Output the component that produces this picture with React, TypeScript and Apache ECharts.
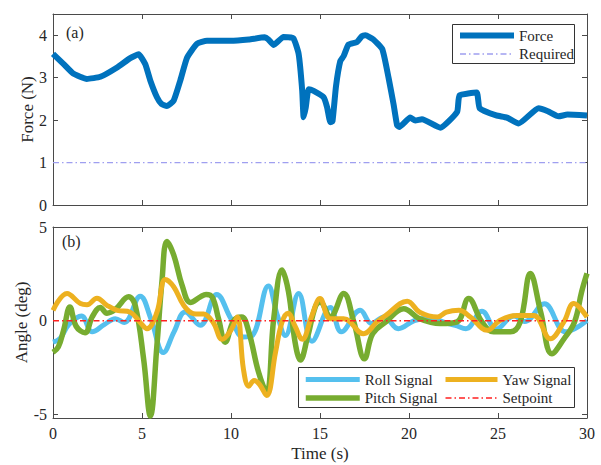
import React, { useEffect, useRef } from "react";
import * as echarts from "echarts";

// ---- Data ----
const forceT = [0, 0.6, 1.16, 1.9, 2.66, 3.6, 4.34, 4.81, 5.18, 5.47, 5.84, 6.1, 6.4, 6.78, 7.15, 7.53, 8.09, 8.65, 9.96, 11.0, 11.9, 12.1, 12.4, 12.95, 13.5, 13.8, 14.0, 14.08, 14.2, 14.36, 14.64, 15.2, 15.4, 15.58, 15.7, 15.9, 16.14, 16.33, 16.6, 17.08, 17.36, 17.55, 18.0, 18.5, 18.85, 19.13, 19.33, 19.45, 20.07, 20.35, 20.73, 21.76, 22.7, 22.84, 23.8, 23.97, 24.9, 25.5, 26.16, 27.28, 27.8, 28.4, 28.9, 30];
const forceN = [3.56, 3.32, 3.09, 2.97, 3.02, 3.24, 3.46, 3.55, 3.32, 2.93, 2.54, 2.38, 2.33, 2.46, 2.93, 3.47, 3.8, 3.87, 3.87, 3.9, 3.95, 3.9, 3.77, 3.96, 3.93, 3.56, 2.7, 2.07, 2.3, 2.73, 2.69, 2.54, 2.3, 1.95, 1.97, 2.8, 3.39, 3.51, 3.78, 3.84, 3.98, 4.0, 3.9, 3.67, 3.0, 2.38, 1.88, 1.84, 2.06, 1.99, 2.02, 1.82, 2.19, 2.58, 2.65, 2.28, 2.11, 2.06, 1.92, 2.28, 2.21, 2.09, 2.13, 2.11];
const requiredForce = 1;

const rollT = [0, 0.4, 0.9, 1.6, 2.2, 2.9, 3.5, 4.0, 4.9, 5.5, 6.2, 6.8, 7.43, 8.27, 9.2, 10.0, 10.7, 11.2, 12.1, 12.6, 13.05, 13.8, 14.55, 15.58, 16.2, 17.26, 17.9, 18.6, 19.4, 20.3, 21.2, 22.0, 22.6, 23.2, 24.1, 24.9, 25.9, 26.5, 27.6, 28.8, 30];
const rollA = [-1.15, -0.95, -0.2, 0.25, -0.6, -0.2, 0.1, -0.1, 1.3, 0.1, -1.7, -0.6, 0.46, -0.25, 1.4, 0.1, -0.88, -0.8, 1.85, 0.3, -0.8, 1.45, -1.1, 0.7, -0.6, 0.55, -0.15, 0.2, -0.43, 0.0, 0.15, -0.1, -0.25, -0.43, 0.5, -0.45, 0.25, -0.05, 0.9, -0.6, 0.0];

const pitchT = [0, 0.3, 0.6, 0.95, 1.3, 1.8, 2.2, 2.66, 3.03, 3.5, 4.25, 4.62, 5.09, 5.47, 5.84, 6.12, 6.4, 6.78, 7.25, 7.72, 8.28, 8.6, 8.95, 9.3, 9.68, 10.15, 10.6, 11.0, 11.55, 12.0, 12.4, 12.86, 13.23, 13.6, 13.9, 14.3, 14.74, 15.0, 15.58, 16.33, 16.9, 17.5, 17.96, 18.7, 19.7, 20.6, 21.75, 22.7, 23.35, 24.1, 24.75, 25.7, 26.25, 26.82, 27.4, 28.03, 28.7, 29.3, 29.7, 30];
const pitchA = [-1.69, -1.4, -0.5, 0.73, -0.3, -0.65, 0.2, 0.7, 0.4, 0.6, 1.27, 0.82, -2.04, -5.09, -1.3, 2.08, 4.23, 3.51, 1.9, 0.97, 1.27, 1.4, 1.25, 0.1, -1.15, 0.0, 0.2, -0.6, -2.76, -3.84, 0.1, 2.7, 1.54, -1.15, -2.1, -0.88, 0.75, 1.0, 0.2, 1.45, -0.07, -2.04, -0.7, -0.07, 0.64, 0.1, -0.16, -0.07, 1.18, -0.07, -0.6, -0.6, -0.07, 2.52, 0.45, -1.77, -0.98, -0.07, 1.54, 2.52];

const yawT = [0, 0.79, 1.54, 1.91, 2.47, 3.03, 3.6, 4.34, 4.9, 5.28, 5.84, 6.31, 6.78, 7.34, 7.9, 8.46, 9.0, 9.5, 10.0, 10.35, 10.7, 11.0, 11.3, 11.6, 12.0, 12.5, 12.86, 13.2, 13.6, 14.0, 14.55, 15.0, 15.58, 16.33, 17.45, 18.2, 18.7, 19.9, 20.6, 21.6, 22.1, 22.8, 23.45, 24.4, 25.1, 26.07, 27.0, 27.94, 28.7, 29.25, 30];
const yawA = [0.55, 1.45, 0.91, 0.85, 1.2, 0.82, 0.55, 0.45, -0.1, -0.43, 0.45, 2.2, 1.81, 0.82, 0.37, 0.35, -0.1, -1.0, -0.5, 0.2, -2.6, -3.5, -3.2, -3.4, -4.0, -1.7, -0.1, 0.4, -0.3, -1.0, 0.28, 1.18, 0.1, 0.1, -0.7, -0.07, 0.28, 1.04, 0.45, 0.19, 0.45, 0.55, 0.19, -0.52, 0.01, 0.28, 0.28, -0.97, -0.07, 0.91, 0.19];
const setpoint = 0;

const timeRange = [0, 30];
const forceTicks = [0, 1, 2, 3, 4];
const angleTicks = [-5, 0, 5];

const zip = (t: number[], v: number[]) => t.map((x, i) => [x, v[i]]);

const FONT = "Liberation Serif";
const AX = "#4a4a4a";
const TXT = "#262626";

export default function App() {
  const ref = useRef<HTMLDivElement>(null);
  useEffect(() => {
    if (!ref.current) return;
    const chart = echarts.init(ref.current, null, { renderer: "svg" });
    const baseX = (gridIndex: number, position: string, labels: boolean) => ({
      type: "value",
      gridIndex,
      position,
      min: timeRange[0],
      max: timeRange[1],
      interval: 5,
      axisLine: { show: true, onZero: false, lineStyle: { color: AX, width: 1 } },
      axisTick: { show: true, inside: true, length: 5, lineStyle: { color: AX } },
      axisLabel: { show: labels, color: TXT, fontFamily: FONT, fontSize: 16, margin: 7 },
      splitLine: { show: false },
    });
    const legendCommon = {
      orient: "vertical",
      itemHeight: 14,
      itemGap: 3.5,
      padding: 0,
      itemStyle: { opacity: 0 },
      lineStyle: { width: "inherit", type: "inherit" },
      textStyle: { color: TXT, fontFamily: FONT, fontSize: 15, lineHeight: 14 },
    };
    const option: any = {
      animation: false,
      backgroundColor: "#fff",
      grid: [
        { left: 53, right: 14, top: 14, height: 191, containLabel: false },
        { left: 53, right: 14, top: 227, height: 191, containLabel: false },
      ],
      xAxis: [
        baseX(0, "bottom", false),
        baseX(0, "top", false),
        {
          ...baseX(1, "bottom", true),
          name: "Time (s)",
          nameLocation: "middle",
          nameGap: 27,
          nameMoveOverlap: false,
          nameTextStyle: { color: TXT, fontFamily: FONT, fontSize: 17 },
        },
        baseX(1, "top", false),
      ],
      yAxis: [
        {
          type: "value",
          gridIndex: 0,
          position: "left",
          min: 0,
          max: 4.5,
          interval: 1,
          name: "Force (N)",
          nameLocation: "middle",
          nameGap: 17,
          nameMoveOverlap: false,
          nameTextStyle: { color: TXT, fontFamily: FONT, fontSize: 17 },
          axisLine: { show: true, onZero: false, lineStyle: { color: AX } },
          axisTick: { show: true, inside: true, length: 5, lineStyle: { color: AX } },
          axisLabel: { color: TXT, fontFamily: FONT, fontSize: 16, margin: 6, customValues: forceTicks },
          splitLine: { show: false },
        },
        {
          type: "value",
          gridIndex: 0,
          position: "right",
          min: 0,
          max: 4.5,
          interval: 1,
          axisLine: { show: true, onZero: false, lineStyle: { color: AX } },
          axisTick: { show: true, inside: true, length: 5, lineStyle: { color: AX } },
          axisLabel: { show: false },
          splitLine: { show: false },
        },
        {
          type: "value",
          gridIndex: 1,
          position: "left",
          min: -5.2,
          max: 5,
          name: "Angle (deg)",
          nameLocation: "middle",
          nameGap: 23,
          nameMoveOverlap: false,
          nameTextStyle: { color: TXT, fontFamily: FONT, fontSize: 17 },
          axisLine: { show: true, onZero: false, lineStyle: { color: AX } },
          axisTick: { show: true, inside: true, length: 5, lineStyle: { color: AX }, customValues: angleTicks },
          axisLabel: { color: TXT, fontFamily: FONT, fontSize: 16, margin: 6, customValues: angleTicks },
          splitLine: { show: false },
        },
        {
          type: "value",
          gridIndex: 1,
          position: "right",
          min: -5.2,
          max: 5,
          axisLine: { show: true, onZero: false, lineStyle: { color: AX } },
          axisTick: { show: true, inside: true, length: 5, lineStyle: { color: AX }, customValues: angleTicks },
          axisLabel: { show: false },
          splitLine: { show: false },
        },
      ],
      legend: [
        { ...legendCommon, data: ["Force", "Required"], left: 457, top: 28, itemWidth: 54 },
        { ...legendCommon, data: ["Roll Signal", "Pitch Signal"], left: 303, top: 372, itemWidth: 54 },
        { ...legendCommon, data: ["Yaw Signal", "Setpoint"], left: 443, top: 372, itemWidth: 52 },
      ],
      graphic: [
        { type: "rect", z: 3, shape: { x: 452.5, y: 24.5, width: 122, height: 39 }, style: { fill: "#fff", stroke: "#333", lineWidth: 1 } },
        { type: "rect", z: 3, shape: { x: 298.5, y: 367.5, width: 276, height: 40 }, style: { fill: "#fff", stroke: "#333", lineWidth: 1 } },
        { type: "text", z: 5, x: 66, y: 24, style: { text: "(a)", fill: TXT, font: `16px "${FONT}"` } },
        { type: "text", z: 5, x: 62, y: 233, style: { text: "(b)", fill: TXT, font: `16px "${FONT}"` } },
      ],
      series: [
        {
          name: "Force",
          type: "line",
          xAxisIndex: 0,
          yAxisIndex: 0,
          data: zip(forceT, forceN),
          smooth: 0.15,
          symbol: "none",
          lineStyle: { color: "#0072BD", width: 6 },
          itemStyle: { color: "#0072BD" },
        },
        {
          name: "Required",
          type: "line",
          xAxisIndex: 0,
          yAxisIndex: 0,
          data: [[timeRange[0], requiredForce], [timeRange[1], requiredForce]],
          symbol: "none",
          lineStyle: { color: "#9f9ff0", width: 1.3, type: [6, 3, 1.5, 3] },
          itemStyle: { color: "#9f9ff0" },
        },
        {
          name: "Roll Signal",
          type: "line",
          xAxisIndex: 2,
          yAxisIndex: 2,
          data: zip(rollT, rollA),
          smooth: 0.4,
          symbol: "none",
          lineStyle: { color: "#55C0EE", width: 5 },
          itemStyle: { color: "#55C0EE" },
        },
        {
          name: "Pitch Signal",
          type: "line",
          xAxisIndex: 2,
          yAxisIndex: 2,
          data: zip(pitchT, pitchA),
          smooth: 0.4,
          symbol: "none",
          lineStyle: { color: "#77AC30", width: 5.5 },
          itemStyle: { color: "#77AC30" },
        },
        {
          name: "Yaw Signal",
          type: "line",
          xAxisIndex: 2,
          yAxisIndex: 2,
          data: zip(yawT, yawA),
          smooth: 0.4,
          symbol: "none",
          lineStyle: { color: "#EDB120", width: 5 },
          itemStyle: { color: "#EDB120" },
        },
        {
          name: "Setpoint",
          type: "line",
          xAxisIndex: 2,
          yAxisIndex: 2,
          data: [[timeRange[0], setpoint], [timeRange[1], setpoint]],
          symbol: "none",
          lineStyle: { color: "#FF2020", width: 1.5, type: [6, 3, 1.5, 3] },
          itemStyle: { color: "#FF2020" },
        },
      ],
    };
    chart.setOption(option);
    return () => chart.dispose();
  }, []);
  return <div ref={ref} style={{ width: 601, height: 465, position: "absolute", left: 0, top: 0 }} />;
}
